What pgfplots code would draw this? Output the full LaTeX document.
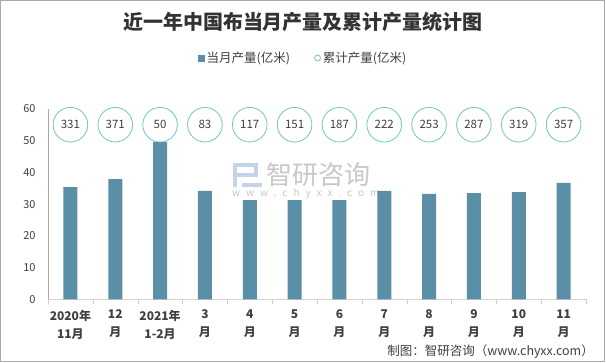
\documentclass[border=0pt]{standalone}
\usepackage{fontspec}
\setmainfont{Noto Sans CJK SC}
\usepackage{pgfplots}
\usepackage{pgfplotstable}
\pgfplotsset{compat=1.18}
\definecolor{barc}{RGB}{91,143,168}
\definecolor{circ}{RGB}{110,200,190}
\definecolor{txt}{RGB}{64,64,64}
\definecolor{framec}{RGB}{170,170,170}
\definecolor{wm}{RGB}{200,200,200}
\definecolor{wmlogo}{RGB}{197,211,232}

\pgfplotstableread{
x y
0 35.4
1 37.9
2 49.6
3 34.2
4 31.3
5 31.3
6 31.3
7 34.2
8 33.2
9 33.5
10 33.8
11 36.7
}\monthly

\pgfplotstableread{
x y lab
0 55.05 331
1 55.05 371
2 55.05 50
3 55.05 83
4 55.05 117
5 55.05 151
6 55.05 187
7 55.05 222
8 55.05 253
9 55.05 287
10 55.05 319
11 55.05 357
}\cumul

\begin{document}
\begin{tikzpicture}
\path[use as bounding box] (0pt,0pt) rectangle (606pt,363pt);
\fill[white] (0pt,0pt) rectangle (606pt,363pt);
\draw[framec, line width=1pt] (0.5pt,1.5pt) rectangle (604.5pt,362.5pt);
% title
\node[font=\fontsize{20}{24}\selectfont\bfseries, text=black!80] at (303pt,341pt) {近一年中国布当月产量及累计产量统计图};
% watermark
\fill[wmlogo] (233pt,196pt) rectangle (258pt,200pt);
\fill[wmlogo] (254pt,186pt) rectangle (258pt,200pt);
\fill[wmlogo] (237pt,186pt) rectangle (258pt,190pt);
\fill[wmlogo] (233pt,176pt) rectangle (237pt,200pt);
\fill[wmlogo] (242pt,176pt) rectangle (262pt,180pt);
\node[font=\fontsize{26}{28}\selectfont, text=wm, anchor=west, inner sep=0pt] at (266pt,188pt) {智研咨询};
\node[font=\fontsize{10}{12}\selectfont\addfontfeature{LetterSpace=60}, text=wm, anchor=west, inner sep=0pt] at (232pt,169pt) {www.chyxx.com};
% footer
\node[font=\fontsize{12.5}{14}\selectfont, text=txt, anchor=east, inner sep=0pt] at (594pt,11pt) {制图：智研咨询（www.chyxx.com）};
\begin{axis}[
  at={(48pt,63.7pt)}, anchor=south west,
  scale only axis, width=538pt, height=190.3pt,
  xmin=-0.5, xmax=11.5, ymin=0, ymax=60,
  clip=false,
  axis x line*=bottom, axis y line*=left,
  x axis line style={draw=gray!35, -},
  y axis line style={draw=gray!70, -},
  xtick={0,...,11},
  xticklabels={2020年\\11月, 12\\月, 2021年\\1-2月, 3\\月, 4\\月, 5\\月, 6\\月, 7\\月, 8\\月, 9\\月, 10\\月, 11\\月},
  xticklabel style={align=center, font=\fontsize{12}{18}\selectfont\bfseries, text=txt, yshift=-7pt},
  minor xtick={-0.5,0.5,...,11.5},
  major tick length=0pt, minor tick length=5pt, tick align=outside,
  tick style={draw=gray!40},
  ytick={0,10,...,60},
  yticklabel style={font=\fontsize{11}{12}\selectfont, text=txt, xshift=-9pt},
  /pgf/number format/assume math mode=true,
  legend style={at={(0.474,1.268)}, anchor=center, draw=none, fill=none,
    font=\fontsize{12.5}{14}\selectfont, text=txt, legend columns=2,
    /tikz/every even column/.append style={column sep=22pt}},
]
\addplot[ybar, bar width=14pt, fill=barc, draw=none,
  legend image code/.code={\fill[barc] (0pt,-3.5pt) rectangle (7pt,3.5pt);}]
  table[x=x,y=y]{\monthly};
\addlegendentry{当月产量(亿米)}
\addplot[only marks, mark=*, mark size=17.3pt,
  mark options={draw=circ, fill=white, line width=0.8pt},
  nodes near coords, point meta=explicit symbolic,
  nodes near coords style={anchor=center, font=\fontsize{11.5}{12}\selectfont, text=txt},
  legend image code/.code={\draw[circ, line width=0.8pt] (3.5pt,0pt) circle (3pt);}]
  table[x=x,y=y,meta=lab]{\cumul};
\addlegendentry{累计产量(亿米)}
\end{axis}
\end{tikzpicture}
\end{document}
